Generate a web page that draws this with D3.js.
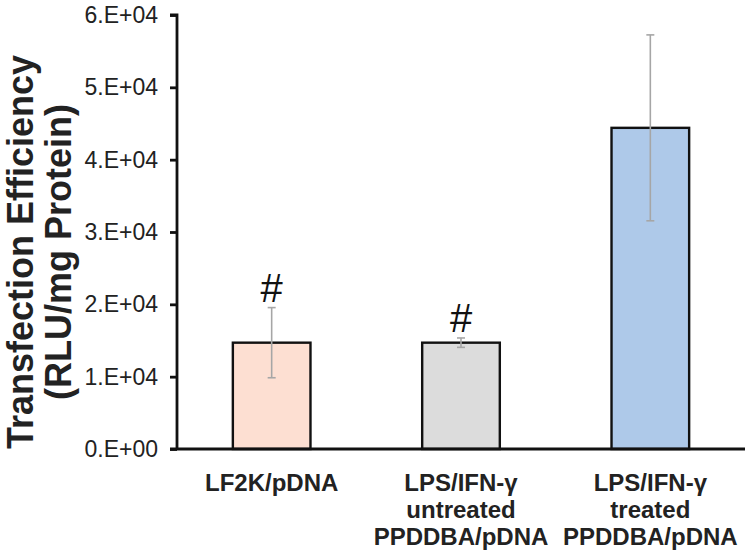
<!DOCTYPE html>
<html>
<head>
<meta charset="utf-8">
<script src="https://cdn.jsdelivr.net/npm/d3@7"></script>
<style>
  html, body { margin: 0; padding: 0; background: #fff; }
  svg { display: block; }
</style>
</head>
<body>
<svg id="chart" width="750" height="554"></svg>
<script>
const categories = [
  ["LF2K/pDNA"],
  ["LPS/IFN-γ", "untreated", "PPDDBA/pDNA"],
  ["LPS/IFN-γ", "treated", "PPDDBA/pDNA"]
];
const values = [14700, 14700, 44400];
const errors = [4850, 650, 12850];
const marks = ["#", "#", ""];
const colors = ["#fddfd2", "#dcdcdc", "#aec9e9"];
const tickValues = [0, 10000, 20000, 30000, 40000, 50000, 60000];
const tickLabels = ["0.E+00", "1.E+04", "2.E+04", "3.E+04", "4.E+04", "5.E+04", "6.E+04"];
const yTitle = ["Transfection Efficiency", "(RLU/mg Protein)"];

const svg = d3.select("#chart");
const mLeft = 177, mRight = 745, mTop = 15, mBottom = 449;

const x = d3.scaleBand().domain(d3.range(values.length)).range([mLeft, mRight]).paddingInner(0.59).paddingOuter(0.295);
const y = d3.scaleLinear().domain([0, 60000]).range([mBottom, mTop]);

// bars
svg.selectAll("rect.bar").data(values).join("rect")
  .attr("class", "bar")
  .attr("x", (d, i) => x(i))
  .attr("y", d => y(d))
  .attr("width", x.bandwidth())
  .attr("height", d => y(0) - y(d))
  .attr("fill", (d, i) => colors[i])
  .attr("stroke", "#111")
  .attr("stroke-width", 2.4);

// error bars
const eg = svg.append("g").attr("stroke", "#a6a6a6").attr("stroke-width", 1.6);
values.forEach((v, i) => {
  const cx = x(i) + x.bandwidth() / 2;
  eg.append("line").attr("x1", cx).attr("x2", cx).attr("y1", y(v + errors[i])).attr("y2", y(v - errors[i]));
  eg.append("line").attr("x1", cx - 4).attr("x2", cx + 4).attr("y1", y(v + errors[i])).attr("y2", y(v + errors[i]));
  eg.append("line").attr("x1", cx - 4).attr("x2", cx + 4).attr("y1", y(v - errors[i])).attr("y2", y(v - errors[i]));
});

// significance marks
svg.selectAll("text.mark").data(marks).join("text")
  .attr("class", "mark")
  .attr("x", (d, i) => x(i) + x.bandwidth() / 2)
  .attr("y", (d, i) => y(values[i] + errors[i]) - 6)
  .attr("text-anchor", "middle")
  .attr("font-family", "Liberation Sans, Arial, sans-serif")
  .attr("font-size", 40)
  .attr("fill", "#111")
  .text(d => d);

// y axis
const yAxis = d3.axisLeft(y).tickValues(tickValues).tickSize(7).tickPadding(12)
  .tickFormat((d, i) => tickLabels[i]);
const ga = svg.append("g").attr("transform", `translate(${mLeft},0)`).call(yAxis);
ga.select(".domain").attr("stroke", "#111").attr("stroke-width", 2.8).attr("d", `M-7,${mTop}H0V${mBottom}`);
ga.selectAll(".tick line").attr("stroke", "#111").attr("stroke-width", 2.8);
ga.selectAll(".tick text").attr("font-family", "Liberation Sans, Arial, sans-serif")
  .attr("font-size", 23).attr("fill", "#222");

// x axis line
svg.append("line").attr("x1", mLeft - 7).attr("x2", mRight).attr("y1", mBottom).attr("y2", mBottom)
  .attr("stroke", "#111").attr("stroke-width", 2.8);

// category labels
categories.forEach((lines, i) => {
  const t = svg.append("text")
    .attr("x", x(i) + x.bandwidth() / 2)
    .attr("y", 491)
    .attr("text-anchor", "middle")
    .attr("font-family", "Liberation Sans, Arial, sans-serif")
    .attr("font-weight", "bold")
    .attr("font-size", 24)
    .attr("fill", "#222");
  lines.forEach((l, j) => t.append("tspan").attr("x", x(i) + x.bandwidth() / 2).attr("dy", j === 0 ? 0 : 27).text(l));
});

// y title
const yt = svg.append("text")
  .attr("transform", `translate(0,252) rotate(-90)`)
  .attr("text-anchor", "middle")
  .attr("font-family", "Liberation Sans, Arial, sans-serif")
  .attr("font-weight", "bold")
  .attr("font-size", 36)
  .attr("fill", "#222");
yTitle.forEach((l, j) => yt.append("tspan").attr("x", 0).attr("y", j === 0 ? 33 : 71).text(l));
</script>
</body>
</html>
